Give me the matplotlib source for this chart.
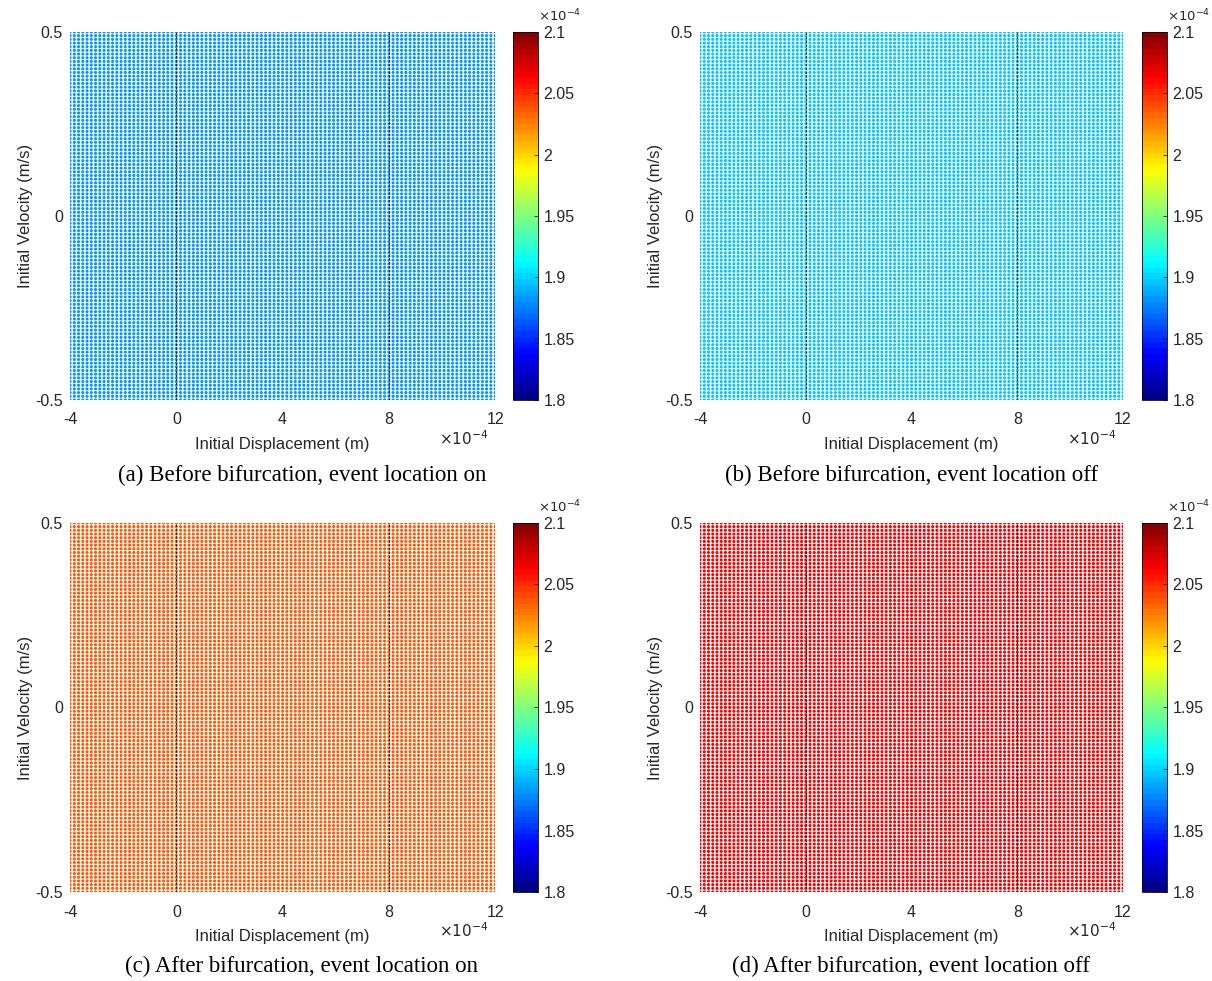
import numpy as np
import matplotlib
matplotlib.use("Agg")
from matplotlib import pyplot as plt
from matplotlib.ticker import FuncFormatter
from matplotlib.colors import ListedColormap

# grid of initial conditions (displacement in m, velocity in m/s)
x_min, x_max, n_x = -4e-4, 12e-4, 101
v_min, v_max, n_v = -0.5, 0.5, 101

# event lines (m)
event_lines = [0.0, 8e-4]

# period-like value (colour on the colourbar)
panel_values = [1.881e-4, 1.897e-4, 2.038e-4, 2.063e-4]
captions = ['(a) Before bifurcation, event location on',
            '(b) Before bifurcation, event location off',
            '(c) After bifurcation, event location on',
            '(d) After bifurcation, event location off']

c_min, c_max = 1.8e-4, 2.1e-4
cbar_ticks = [1.8e-4, 1.85e-4, 1.9e-4, 1.95e-4, 2.0e-4, 2.05e-4, 2.1e-4]
cbar_labels = ['1.8', '1.85', '1.9', '1.95', '2', '2.05', '2.1']
x_ticks = [-4e-4, 0, 4e-4, 8e-4, 12e-4]
y_ticks = [-0.5, 0, 0.5]


def matlab_jet(n=64):
    # MATLAB style jet colormap with n levels
    t = (np.arange(n) + 0.5) / n
    r = np.clip(np.minimum(4 * t - 1.5, -4 * t + 4.5), 0, 1)
    g = np.clip(np.minimum(4 * t - 0.5, -4 * t + 3.5), 0, 1)
    b = np.clip(np.minimum(4 * t + 0.5, -4 * t + 2.5), 0, 1)
    return ListedColormap(np.column_stack([r, g, b]))


plt.rcParams['font.family'] = ['Liberation Sans', 'DejaVu Sans']

fig = plt.figure(figsize=(12.12, 9.81), dpi=100)
cmap = matlab_jet(64)

xs = np.linspace(x_min, x_max, n_x)
vs = np.linspace(v_min, v_max, n_v)
X, V = np.meshgrid(xs, vs)

# axes boxes in figure fractions [left, bottom, width, height]
ax_pos = [[0.0578, 0.5923, 0.3507, 0.3751],
          [0.5776, 0.5923, 0.3490, 0.3751],
          [0.0578, 0.0907, 0.3507, 0.3762],
          [0.5776, 0.0907, 0.3490, 0.3762]]
cb_pos = [[0.4233, 0.5923, 0.0206, 0.3751],
          [0.9423, 0.5923, 0.0206, 0.3751],
          [0.4233, 0.0907, 0.0206, 0.3762],
          [0.9423, 0.0907, 0.0206, 0.3762]]
cap_x = [0.249, 0.752, 0.249, 0.752]
cap_y = [0.5155, 0.5155, 0.0145, 0.0145]

for i in range(4):
    ax = fig.add_axes(ax_pos[i])
    C = np.full(X.shape, panel_values[i])
    sc = ax.scatter(X.ravel(), V.ravel(), c=C.ravel(), cmap=cmap,
                    vmin=c_min, vmax=c_max, s=5, marker='o', linewidths=0)
    for xl in event_lines:
        ax.plot([xl, xl], [v_min, v_max], color='#222222', linestyle='--',
                linewidth=0.8, dashes=(2, 1.5))
    ax.set_xlim(x_min, x_max)
    ax.set_ylim(v_min, v_max)
    ax.set_xticks(x_ticks)
    ax.set_yticks(y_ticks)
    ax.xaxis.set_major_formatter(FuncFormatter(lambda v, p: '%g' % round(v / 1e-4)))
    ax.yaxis.set_major_formatter(FuncFormatter(lambda v, p: '%g' % v))
    ax.tick_params(axis='x', length=0, labelsize=11.5, colors='#262626', pad=9)
    ax.tick_params(axis='y', length=0, labelsize=11.5, colors='#262626', pad=5)
    for s in ax.spines.values():
        s.set_visible(False)
    ax.set_xlabel('Initial Displacement (m)', fontsize=12, color='#262626', labelpad=7)
    ax.set_ylabel('Initial Velocity (m/s)', fontsize=12, color='#262626', labelpad=2)
    ax.text(0.985, -0.105, r'$\times10^{-4}$', transform=ax.transAxes, ha='right',
            va='center', fontsize=11, color='#262626')

    cax = fig.add_axes(cb_pos[i])
    cb = fig.colorbar(sc, cax=cax, ticks=cbar_ticks)
    cb.ax.set_yticklabels(cbar_labels)
    cb.ax.tick_params(labelsize=11.5, colors='#262626', direction='in', length=3,
                      width=0.6, pad=4)
    cb.outline.set_linewidth(0.6)
    cax.text(1.0, 1.022, r'$\times10^{-4}$', transform=cax.transAxes, ha='left',
             va='bottom', fontsize=9.5, color='#262626')

    fig.text(cap_x[i], cap_y[i], captions[i], ha='center', va='center', fontsize=16.5,
             family=['Liberation Serif', 'DejaVu Serif'])

fig.savefig('out.png', dpi=100)
